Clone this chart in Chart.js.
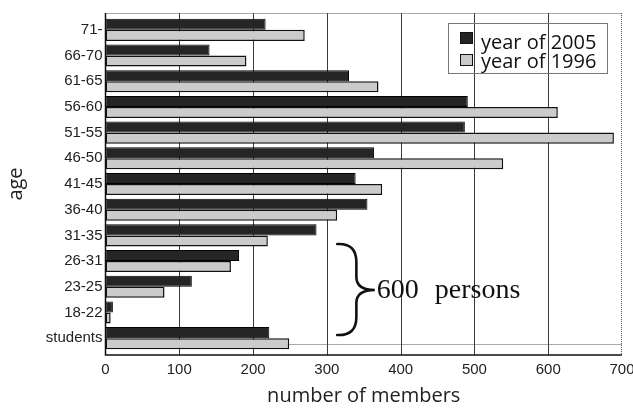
<!DOCTYPE html>
<html>
<head>
<meta charset="utf-8">
<script src="https://cdn.jsdelivr.net/npm/chart.js@4"></script>
<style>
  body { margin: 0; background: #fff; }
  #wrap { width: 633px; height: 408px; }
</style>
</head>
<body>
<div id="wrap"><canvas id="membersChart" width="633" height="408"></canvas></div>
<script>
const ageGroups = ['71-', '66-70', '61-65', '56-60', '51-55', '46-50', '41-45', '36-40', '31-35', '26-31', '23-25', '18-22', 'students'];
const members2005 = [217, 141, 330, 491, 487, 364, 339, 355, 286, 181, 117, 10, 222];
const members1996 = [270, 191, 370, 613, 689, 539, 375, 314, 220, 170, 80, 7, 249];
const xTicks = [0, 100, 200, 300, 400, 500, 600, 700];
const legendLabels = ['year of 2005', 'year of 1996'];
const noteWords = ['600', 'persons'];

const DARK = '#252525';
const LIGHT = '#cbcbcb';
const EDGE = '#111';

// frame, grid and the little stray dotted line, drawn behind the bars
const framePlugin = {
  id: 'frame',
  beforeDatasetsDraw(chart) {
    const { ctx, chartArea: a, scales: { x } } = chart;
    const top = a.top - 4, bottom = a.bottom + 4;
    ctx.save();
    ctx.strokeStyle = '#3a3a3a';
    ctx.lineWidth = 1;
    xTicks.slice(1, -1).forEach(v => {
      const px = Math.round(x.getPixelForValue(v)) + 0.5;
      ctx.beginPath(); ctx.moveTo(px, top); ctx.lineTo(px, bottom); ctx.stroke();
    });
    ctx.setLineDash([1, 1]);
    ctx.strokeStyle = '#555';
    ctx.beginPath();
    ctx.moveTo(a.left, top + 0.5); ctx.lineTo(a.right, top + 0.5);
    ctx.moveTo(a.right - 0.5, top); ctx.lineTo(a.right - 0.5, bottom);
    ctx.moveTo(a.left, bottom - 10.5); ctx.lineTo(a.right, bottom - 10.5);
    ctx.stroke();
    ctx.setLineDash([]);
    ctx.strokeStyle = '#111';
    ctx.lineWidth = 1.5;
    ctx.beginPath();
    ctx.moveTo(a.left, top); ctx.lineTo(a.left, bottom); ctx.lineTo(a.right, bottom);
    ctx.stroke();
    ctx.restore();
  },
  afterDraw(chart) {
    const { ctx, scales: { x }, chartArea: a } = chart;
    ctx.save();
    // legend box
    ctx.strokeStyle = '#777';
    ctx.lineWidth = 1;
    ctx.strokeRect(448.5, 23.5, 159, 50);
    const fills = [DARK, LIGHT];
    ctx.font = '20px "Open Sans"';
    legendLabels.forEach((t, i) => {
      const y = 32 + i * 22;
      ctx.fillStyle = fills[i];
      ctx.fillRect(460, y, 13, 12);
      ctx.strokeStyle = EDGE;
      ctx.strokeRect(460.5, y + 0.5, 12, 11);
      ctx.fillStyle = '#111';
      ctx.fillText(t, 481, 49 + i * 19);
    });
    // brace + note
    const bx = x.getPixelForValue(314);
    const mx = x.getPixelForValue(340);
    const tx = x.getPixelForValue(365);
    const yT = a.top + 227, yM = a.top + 273, yB = a.top + 318;
    ctx.strokeStyle = '#111';
    ctx.lineWidth = 2.6;
    ctx.lineCap = 'round';
    ctx.beginPath();
    ctx.moveTo(bx, yT);
    ctx.quadraticCurveTo(mx, yT - 1, mx, yT + 18);
    ctx.lineTo(mx, yM - 13);
    ctx.quadraticCurveTo(mx, yM, tx, yM);
    ctx.quadraticCurveTo(mx, yM, mx, yM + 13);
    ctx.lineTo(mx, yB - 18);
    ctx.quadraticCurveTo(mx, yB + 1, bx, yB);
    ctx.stroke();
    ctx.font = '28px "Liberation Serif"';
    ctx.fillStyle = '#111';
    let wx = tx + 2;
    noteWords.forEach(w => {
      ctx.fillText(w, wx, yM + 8);
      wx += ctx.measureText(w).width + 16;
    });
    ctx.restore();
  }
};

new Chart(document.getElementById('membersChart'), {
  type: 'bar',
  data: {
    labels: ageGroups,
    datasets: [
      {
        label: legendLabels[0],
        data: members2005,
        backgroundColor: DARK,
        borderColor: '#000',
        borderWidth: 1,
        borderSkipped: false
      },
      {
        label: legendLabels[1],
        data: members1996,
        backgroundColor: LIGHT,
        borderColor: EDGE,
        borderWidth: 1.5,
        borderSkipped: false
      }
    ]
  },
  options: {
    indexAxis: 'y',
    responsive: false,
    animation: false,
    devicePixelRatio: 1,
    categoryPercentage: 0.86,
    barPercentage: 1.0,
    layout: { padding: { top: 17, right: 11, left: 0, bottom: 0 } },
    plugins: { legend: { display: false }, tooltip: { enabled: false } },
    scales: {
      x: {
        min: 0, max: 700,
        afterFit: s => { s.height = 57; s.paddingLeft = 0; s.paddingRight = 0; },
        afterBuildTicks: s => { s.ticks = xTicks.map(v => ({ value: v })); },
        grid: { display: false, drawTicks: false },
        border: { display: false },
        ticks: { color: '#222', padding: 10, font: { family: '"Liberation Sans"', size: 15 } },
        title: {
          display: true, text: 'number of members', color: '#222',
          padding: 0, font: { family: '"Open Sans"', size: 20 }
        }
      },
      y: {
        afterFit: s => { s.width = 105.5; },
        grid: { display: false, drawTicks: false },
        border: { display: false },
        ticks: { color: '#222', padding: 3, font: { family: '"Liberation Sans"', size: 15 } },
        title: {
          display: true, text: 'age', color: '#222',
          padding: 4, font: { family: '"Open Sans"', size: 20 }
        }
      }
    }
  },
  plugins: [framePlugin]
});
</script>
</body>
</html>
